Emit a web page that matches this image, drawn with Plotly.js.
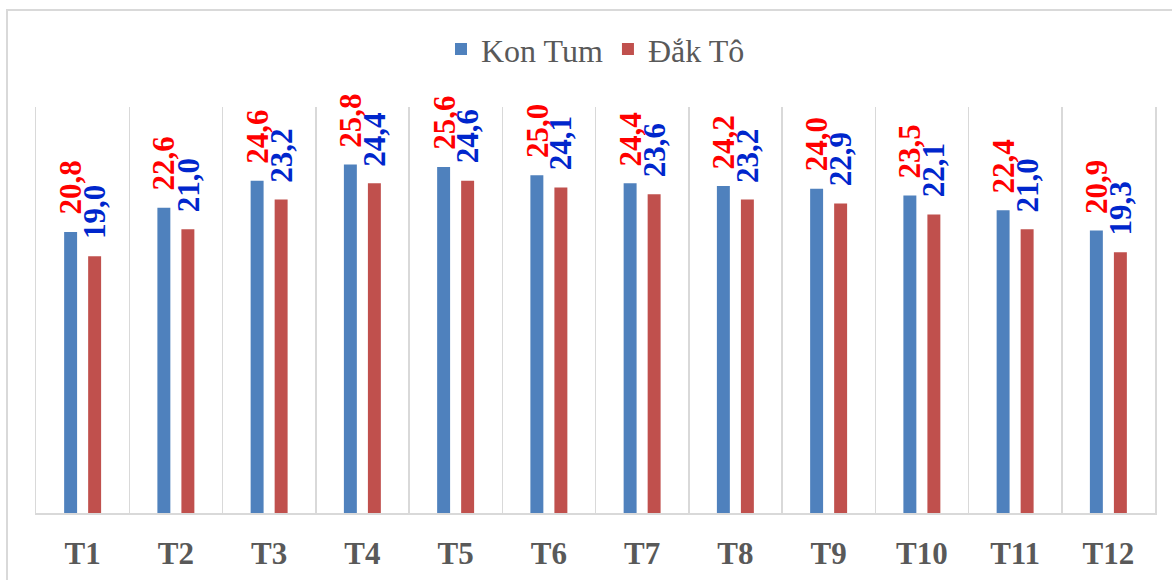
<!DOCTYPE html>
<html>
<head>
<meta charset="utf-8">
<script src="https://cdn.plot.ly/plotly-3.0.1.min.js"></script>
<style>
  html, body { margin: 0; padding: 0; background: #fff; }
  #chart { width: 1172px; height: 580px; }
</style>
</head>
<body>
<div id="chart"></div>
<script>
// Monthly values for the two stations
const months = ['T1', 'T2', 'T3', 'T4', 'T5', 'T6', 'T7', 'T8', 'T9', 'T10', 'T11', 'T12'];
const konTum = [20.8, 22.6, 24.6, 25.8, 25.6, 25.0, 24.4, 24.2, 24.0, 23.5, 22.4, 20.9];
const dakTo = [19.0, 21.0, 23.2, 24.4, 24.6, 24.1, 23.6, 23.2, 22.9, 22.1, 21.0, 19.3];

const SERIF = 'Liberation Serif, Times New Roman, serif';
const fmt = v => v.toFixed(1).replace('.', ',');

const traces = [
  { type: 'bar', name: 'Kon Tum', x: months, y: konTum,
    marker: { color: '#4F81BD' }, hoverinfo: 'skip' },
  { type: 'bar', name: 'Đắk Tô', x: months, y: dakTo,
    marker: { color: '#C0504D' }, hoverinfo: 'skip' }
];

// Vertical value labels above each bar (red for Kon Tum, blue for Đắk Tô)
const annotations = [];
function addLabels(values, shift, color) {
  values.forEach((v, i) => {
    annotations.push({
      x: months[i], y: v, xref: 'x', yref: 'y',
      text: '<b>' + fmt(v) + '</b>',
      textangle: -90, showarrow: false,
      xanchor: 'center', yanchor: 'bottom',
      xshift: shift, yshift: 15,
      font: { family: SERIF, size: 31, color: color }
    });
  });
}
addLabels(konTum, -12, '#FF0000');
addLabels(dakTo, 12, '#0026CC');

const layout = {
  width: 1172, height: 580,
  margin: { l: 36, r: 17, t: 107, b: 67 },
  paper_bgcolor: '#ffffff', plot_bgcolor: '#ffffff',
  font: { family: SERIF },
  barmode: 'group', bargap: 0.485, bargroupgap: 0.46,
  showlegend: true,
  legend: {
    orientation: 'h', x: 0.5, xanchor: 'center', y: 1.21, yanchor: 'top',
    font: { family: SERIF, size: 32, color: '#595959' },
    itemclick: false, itemdoubleclick: false
  },
  xaxis: {
    type: 'category', range: [-0.5, 11.5],
    tickson: 'boundaries', ticks: '', showgrid: true, gridcolor: '#d9d9d9', gridwidth: 1.5,
    showline: true, linecolor: '#d9d9d9', linewidth: 1.5,
    tickfont: { family: SERIF, size: 31, color: '#595959', weight: 'bold' },
    ticklabelstandoff: 12
  },
  yaxis: {
    range: [0, 30.05], showgrid: false, zeroline: false, showticklabels: false, ticks: '',
    showline: true, mirror: true, linecolor: '#d9d9d9', linewidth: 1.5
  },
  annotations: annotations,
  shapes: [{
    type: 'rect', xref: 'paper', yref: 'paper',
    x0: (7 - 36) / 1119, x1: 1.2, y0: -0.5, y1: (513 - 10) / 406,
    line: { color: '#d9d9d9', width: 2 }, fillcolor: 'rgba(0,0,0,0)', layer: 'below'
  }]
};

Plotly.newPlot('chart', traces, layout, { displayModeBar: false, staticPlot: true });
</script>
</body>
</html>
